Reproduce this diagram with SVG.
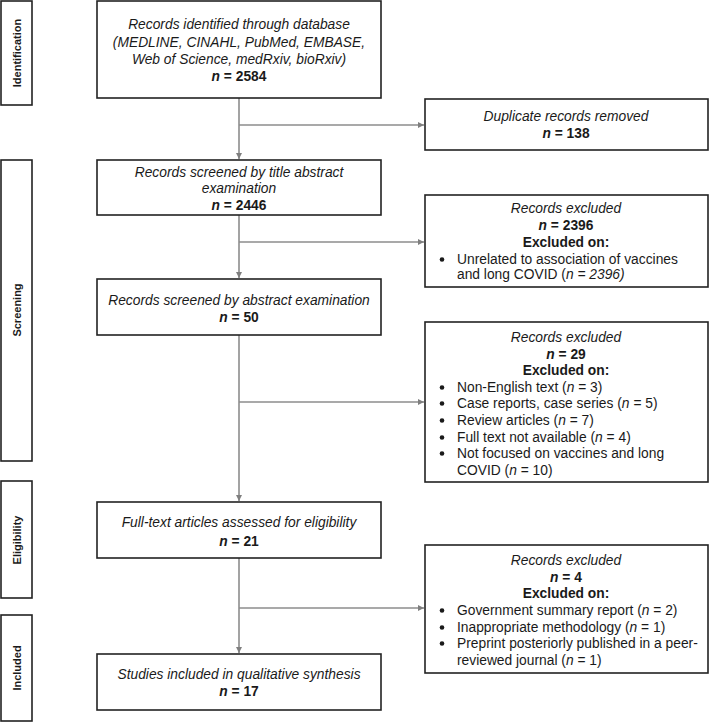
<svg xmlns="http://www.w3.org/2000/svg" width="710" height="723" viewBox="0 0 710 723">
<defs>
<marker id="ah" markerWidth="6" markerHeight="6" refX="6" refY="3" orient="auto" markerUnits="userSpaceOnUse">
<path d="M0,0 L6,3 L0,6 Z" fill="#7f7f7f"/>
</marker>
<style>
.box{fill:#fff;stroke:#222;stroke-width:1.6}
.con{fill:none;stroke:#8c8c8c;stroke-width:1.6}
text{font-family:"Liberation Sans",Arial,sans-serif;font-size:13.8px;fill:#1a1a1a}
.c{text-anchor:middle}
.it{font-style:italic}
.b{font-weight:bold}
.ph{font-size:11px;font-weight:bold;text-anchor:middle}
</style>
</defs>
<rect width="710" height="723" fill="#fff"/>

<g id="phase-identification">
<rect class="box" x="1" y="1" width="31" height="104"/>
<text class="ph" transform="translate(20.5,53) rotate(-90)">Identification</text>
</g>
<g id="phase-screening">
<rect class="box" x="1" y="160" width="31" height="301"/>
<text class="ph" transform="translate(20.5,310) rotate(-90)">Screening</text>
</g>
<g id="phase-eligibility">
<rect class="box" x="1" y="481" width="31" height="117"/>
<text class="ph" transform="translate(20.5,540) rotate(-90)">Eligibility</text>
</g>
<g id="phase-included">
<rect class="box" x="1" y="615" width="31" height="106"/>
<text class="ph" transform="translate(20.5,668) rotate(-90)">Included</text>
</g>

<g id="connectors">
<line class="con" x1="239" y1="98" x2="239" y2="159" marker-end="url(#ah)"/>
<line class="con" x1="239" y1="125" x2="424" y2="125" marker-end="url(#ah)"/>
<line class="con" x1="239" y1="215" x2="239" y2="278" marker-end="url(#ah)"/>
<line class="con" x1="239" y1="242" x2="424" y2="242" marker-end="url(#ah)"/>
<line class="con" x1="239" y1="335" x2="239" y2="501" marker-end="url(#ah)"/>
<line class="con" x1="239" y1="402" x2="424" y2="402" marker-end="url(#ah)"/>
<line class="con" x1="239" y1="558" x2="239" y2="653" marker-end="url(#ah)"/>
<line class="con" x1="239" y1="608" x2="424" y2="608" marker-end="url(#ah)"/>
</g>

<g id="n-identified">
<rect class="box" x="97" y="1" width="284" height="97"/>
<text class="c it" x="239" y="29">Records identified through database</text>
<text class="c it" x="239" y="47">(MEDLINE, CINAHL, PubMed, EMBASE,</text>
<text class="c it" x="239" y="64">Web of Science, medRxiv, bioRxiv)</text>
<text class="c b" x="239" y="81"><tspan class="it">n</tspan> = 2584</text>
</g>

<g id="n-duplicates">
<rect class="box" x="425" y="99" width="283" height="51"/>
<text class="c it" x="566" y="121">Duplicate records removed</text>
<text class="c b" x="566" y="138"><tspan class="it">n</tspan> = 138</text>
</g>

<g id="n-title-screen">
<rect class="box" x="97" y="160" width="284" height="55"/>
<text class="c it" x="239" y="177">Records screened by title abstract</text>
<text class="c it" x="239" y="193">examination</text>
<text class="c b" x="239" y="210"><tspan class="it">n</tspan> = 2446</text>
</g>

<g id="n-excluded1">
<rect class="box" x="425" y="195" width="283" height="92"/>
<text class="c it" x="566" y="213">Records excluded</text>
<text class="c b" x="566" y="230"><tspan class="it">n</tspan> = 2396</text>
<text class="c b" x="566" y="247">Excluded on:</text>
<circle cx="442" cy="259.5" r="2.3" fill="#1a1a1a"/>
<text x="457" y="264">Unrelated to association of vaccines</text>
<text x="457" y="279">and long COVID (<tspan class="it">n = 2396)</tspan></text>
</g>

<g id="n-abstract-screen">
<rect class="box" x="97" y="279" width="284" height="56"/>
<text class="c it" x="239" y="305">Records screened by abstract examination</text>
<text class="c b" x="239" y="322"><tspan class="it">n</tspan> = 50</text>
</g>

<g id="n-excluded2">
<rect class="box" x="425" y="322" width="283" height="160"/>
<text class="c it" x="566" y="342">Records excluded</text>
<text class="c b" x="566" y="359"><tspan class="it">n</tspan> = 29</text>
<text class="c b" x="566" y="375">Excluded on:</text>
<circle cx="442" cy="387.5" r="2.3" fill="#1a1a1a"/>
<text x="457" y="392">Non-English text (<tspan class="it">n</tspan> = 3)</text>
<circle cx="442" cy="403.5" r="2.3" fill="#1a1a1a"/>
<text x="457" y="408">Case reports, case series (<tspan class="it">n</tspan> = 5)</text>
<circle cx="442" cy="420.5" r="2.3" fill="#1a1a1a"/>
<text x="457" y="425">Review articles (<tspan class="it">n</tspan> = 7)</text>
<circle cx="442" cy="437.5" r="2.3" fill="#1a1a1a"/>
<text x="457" y="442">Full text not available (<tspan class="it">n</tspan> = 4)</text>
<circle cx="442" cy="453.5" r="2.3" fill="#1a1a1a"/>
<text x="457" y="458">Not focused on vaccines and long</text>
<text x="457" y="475">COVID (<tspan class="it">n</tspan> = 10)</text>
</g>

<g id="n-fulltext">
<rect class="box" x="97" y="502" width="284" height="56"/>
<text class="c it" x="239" y="527">Full-text articles assessed for eligibility</text>
<text class="c b" x="239" y="546"><tspan class="it">n</tspan> = 21</text>
</g>

<g id="n-excluded3">
<rect class="box" x="425" y="545" width="283" height="128"/>
<text class="c it" x="566" y="565">Records excluded</text>
<text class="c b" x="566" y="582"><tspan class="it">n</tspan> = 4</text>
<text class="c b" x="566" y="598">Excluded on:</text>
<circle cx="442" cy="610.5" r="2.3" fill="#1a1a1a"/>
<text x="457" y="615">Government summary report (<tspan class="it">n</tspan> = 2)</text>
<circle cx="442" cy="627.5" r="2.3" fill="#1a1a1a"/>
<text x="457" y="632">Inappropriate methodology (<tspan class="it">n</tspan> = 1)</text>
<circle cx="442" cy="643.5" r="2.3" fill="#1a1a1a"/>
<text x="457" y="648">Preprint posteriorly published in a peer-</text>
<text x="457" y="665">reviewed journal (<tspan class="it">n</tspan> = 1)</text>
</g>

<g id="n-included">
<rect class="box" x="97" y="654" width="284" height="56"/>
<text class="c it" x="239" y="679">Studies included in qualitative synthesis</text>
<text class="c b" x="239" y="696"><tspan class="it">n</tspan> = 17</text>
</g>
</svg>
